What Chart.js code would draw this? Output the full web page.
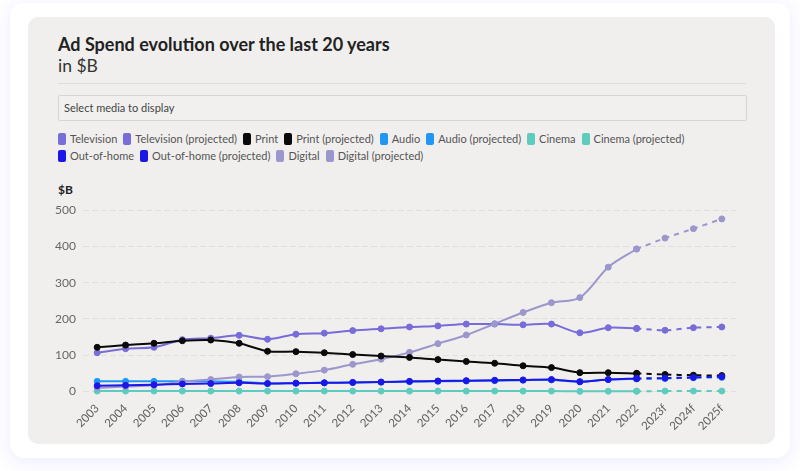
<!DOCTYPE html>
<html>
<head>
<meta charset="utf-8">
<script src="https://cdn.jsdelivr.net/npm/chart.js@4/dist/chart.umd.min.js"></script>
<style>
  html, body { margin: 0; padding: 0; background: #ffffff; width: 800px; height: 471px; overflow: hidden; font-family: 'Lato', sans-serif; }
  #outer { position: absolute; left: 10px; top: 3px; width: 780px; height: 455px; background: #fff; border-radius: 14px; box-shadow: 0 3px 18px rgba(90, 90, 255, 0.13); }
  #card { position: absolute; left: 28px; top: 17px; width: 747px; height: 427px; background: #f0efee; border-radius: 10px; }
  #title { position: absolute; left: 58px; top: 33px; font-size: 18px; font-weight: 700; color: #222; white-space: nowrap; }
  #subtitle { position: absolute; left: 58px; top: 55px; font-size: 17.5px; font-weight: 400; color: #333; }
  #sep { position: absolute; left: 58px; top: 83px; width: 688px; height: 1px; background: #dedddc; }
  #select { position: absolute; left: 58px; top: 95px; width: 682px; height: 24px; border: 1px solid #d6d5d4; border-radius: 2px; background: #f1f0ef; font-size: 11px; color: #444; line-height: 24px; padding-left: 5px; box-sizing: content-box; }
  #legend { position: absolute; left: 58px; top: 132px; width: 700px; display: flex; flex-wrap: wrap; row-gap: 2px; }
  .li { display: flex; align-items: center; margin-right: 6px; height: 13px; font-size: 11px; color: #555; white-space: nowrap; }
  .lb { width: 8px; height: 12px; border-radius: 2px; margin-right: 4px; }
  .brk { flex-basis: 100%; height: 0; }
  #ytitle { position: absolute; left: 58px; top: 182px; font-size: 12px; font-weight: 700; color: #222; }
  #wrap { position: absolute; left: 50px; top: 196px; width: 700px; height: 239px; }
</style>
</head>
<body>
<div id="outer"></div>
<div id="card"></div>
<div id="title">Ad Spend evolution over the last 20 years</div>
<div id="subtitle">in $B</div>
<div id="sep"></div>
<div id="select">Select media to display</div>
<div id="legend"></div>
<div id="ytitle">$B</div>
<div id="wrap"><canvas id="c"></canvas></div>
<script>
const years = ['2003','2004','2005','2006','2007','2008','2009','2010','2011','2012','2013','2014','2015','2016','2017','2018','2019','2020','2021','2022','2023f','2024f','2025f'];
const yTicks = [0, 100, 200, 300, 400, 500];

const television     = [107,118,122,143,147,155,144,158,161,168,173,178,181,186,186,184,186,162,176,174,null,null,null];
const televisionProj = [null,null,null,null,null,null,null,null,null,null,null,null,null,null,null,null,null,null,null,174,169,176,178];
const print          = [122,128,133,140,142,133,111,110,107,102,98,94,88,83,78,71,66,52,52,50,null,null,null];
const printProj      = [null,null,null,null,null,null,null,null,null,null,null,null,null,null,null,null,null,null,null,50,47,45,44];
const audio          = [28,28,28,28,28,27,22,23,24,25,26,27,28,29,30,31,32,27,33,35,null,null,null];
const audioProj      = [null,null,null,null,null,null,null,null,null,null,null,null,null,null,null,null,null,null,null,35,36,38,39];
const cinema         = [1.2,1.2,1.2,1.2,1.2,1.2,1.2,1.2,1.2,1.2,1.2,1.2,1.2,1.2,1.2,1.2,1.2,0.5,0.8,1,null,null,null];
const cinemaProj     = [null,null,null,null,null,null,null,null,null,null,null,null,null,null,null,null,null,null,null,1,1.2,1.3,1.4];
const outOfHome      = [16,17,19,21,22,24,22,23,24,25,26,28,29,30,31,32,33,27,33,36,null,null,null];
const outOfHomeProj  = [null,null,null,null,null,null,null,null,null,null,null,null,null,null,null,null,null,null,null,36,37,39,41];
const digital        = [10,14,17,27,33,40,41,49,59,75,89,108,132,156,187,218,245,259,343,393,null,null,null];
const digitalProj    = [null,null,null,null,null,null,null,null,null,null,null,null,null,null,null,null,null,null,null,393,423,449,476];

const COL = { tv: '#776cd8', print: '#0a0a0a', audio: '#2196f3', cinema: '#5ecbbf', ooh: '#1c16e6', digital: '#9b96cb' };

function ds(label, data, color, projected, order) {
  return {
    label, data,
    borderColor: color, backgroundColor: color,
    pointBackgroundColor: color, pointBorderColor: color,
    pointRadius: 3, pointHoverRadius: 4, pointBorderWidth: 1,
    borderWidth: 2, tension: 0.3,
    borderDash: projected ? [5, 5] : [],
    spanGaps: false,
    clip: false,
    order: order
  };
}

Chart.defaults.font.family = 'Lato';

const chart = new Chart(document.getElementById('c'), {
  type: 'line',
  data: {
    labels: years,
    datasets: [
      ds('Television', television, COL.tv, false, 3),
      ds('Television (projected)', televisionProj, COL.tv, true, 3),
      ds('Print', print, COL.print, false, 2),
      ds('Print (projected)', printProj, COL.print, true, 2),
      ds('Audio', audio, COL.audio, false, 4),
      ds('Audio (projected)', audioProj, COL.audio, true, 4),
      ds('Cinema', cinema, COL.cinema, false, 5),
      ds('Cinema (projected)', cinemaProj, COL.cinema, true, 5),
      ds('Out-of-home', outOfHome, COL.ooh, false, 1),
      ds('Out-of-home (projected)', outOfHomeProj, COL.ooh, true, 1),
      ds('Digital', digital, COL.digital, false, 2),
      ds('Digital (projected)', digitalProj, COL.digital, true, 2)
    ]
  },
  options: {
    responsive: true,
    maintainAspectRatio: false,
    animation: false,
    layout: { padding: { left: 0, right: 14, top: 0, bottom: 0 } },
    plugins: { legend: { display: false }, tooltip: { enabled: false } },
    scales: {
      x: {
        offset: true,
        grid: { display: false },
        border: { display: false },
        ticks: { color: '#606060', font: { size: 11.5 }, maxRotation: 45, minRotation: 45, padding: 2 }
      },
      y: {
        min: yTicks[0], max: yTicks[yTicks.length - 1],
        afterBuildTicks: (s) => { s.ticks = yTicks.map(v => ({ value: v })); },
        afterFit: (s) => { s.width = 33; },
        grid: { color: '#e0dfde', lineWidth: 1, drawTicks: false },
        border: { display: false, dash: [6, 3] },
        ticks: { color: '#666', font: { size: 12 }, padding: 7 }
      }
    }
  }
});

// HTML legend built from the chart's datasets
const leg = document.getElementById('legend');
chart.data.datasets.forEach((d, i) => {
  const item = document.createElement('div');
  item.className = 'li';
  const box = document.createElement('span');
  box.className = 'lb';
  box.style.background = d.backgroundColor;
  const txt = document.createElement('span');
  txt.textContent = d.label;
  item.appendChild(box); item.appendChild(txt);
  leg.appendChild(item);
  if (i === 7) { const b = document.createElement('div'); b.className = 'brk'; leg.appendChild(b); }
});
</script>
</body>
</html>
